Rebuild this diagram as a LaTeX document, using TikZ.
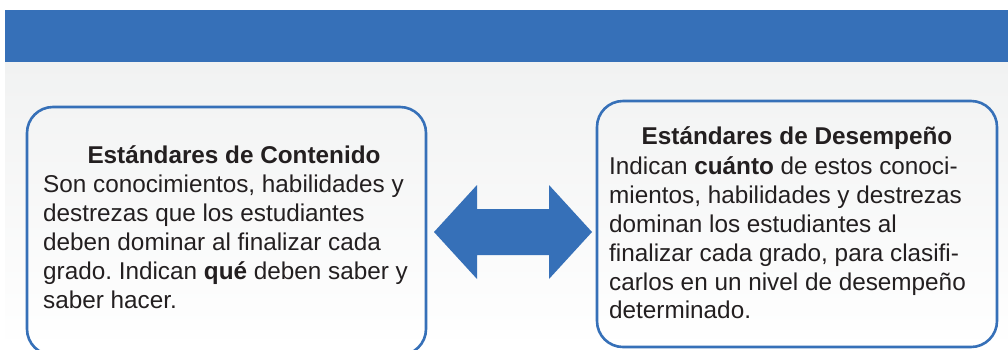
\documentclass[tikz,border=0pt]{standalone}
\usepackage{fontspec}
\setmainfont{Liberation Sans}
\definecolor{barblue}{RGB}{54,112,184}
\definecolor{txt}{RGB}{35,31,32}
\definecolor{bggray}{RGB}{241,242,242}
\frenchspacing
\begin{document}
\begin{tikzpicture}[x=1pt,y=-1pt,
  box/.style={draw=barblue, line width=2.6pt, rounded corners=26pt, inner sep=0pt},
  line/.style={anchor=base west, inner sep=0pt, text=txt, font=\fontsize{24.3}{29}\selectfont},
  title/.style={anchor=base, inner sep=0pt, text=txt, font=\fontsize{24.3}{29}\selectfont\bfseries}]
\useasboundingbox (0,0) rectangle (1008,349);
\fill[white] (0,0) rectangle (1008,349);
\shade[top color=bggray, bottom color=white] (5,62) rectangle (1008,349);
\fill[barblue] (5,10) rectangle (1008,62);
% boxes
\node[box, minimum width=399pt, minimum height=248pt] (L) at (226.5,231) {};
\node[box, minimum width=400pt, minimum height=246pt] (R) at (797,224) {};
% double arrow
\fill[barblue] (434,232) -- (477,185) -- (477,209) -- (549,209) -- (549,185)
  -- (592,232) -- (549,279) -- (549,255) -- (477,255) -- (477,279) -- cycle;
% left text
\node[title] (lt) at (234,163) {Estándares de Contenido};
\node[line] (l1) at (43,192) {Son conocimientos, habilidades y};
\node[line] (l2) at (43,221) {destrezas que los estudiantes};
\node[line] (l3) at (43,250) {deben dominar al finalizar cada};
\node[line] (l4) at (43,279) {grado. Indican \textbf{qué} deben saber y};
\node[line] (l5) at (43,308) {saber hacer.};
% right text
\node[title] (rt) at (797,144) {Estándares de Desempeño};
\node[line] (r1) at (609,174) {Indican \textbf{cuánto} de estos conoci-};
\node[line] (r2) at (609,203) {mientos, habilidades y destrezas};
\node[line] (r3) at (609,232) {dominan los estudiantes al};
\node[line] (r4) at (609,261) {finalizar cada grado, para clasifi-};
\node[line] (r5) at (609,290) {carlos en un nivel de desempeño};
\node[line] (r6) at (609,318) {determinado.};
\end{tikzpicture}
\end{document}
